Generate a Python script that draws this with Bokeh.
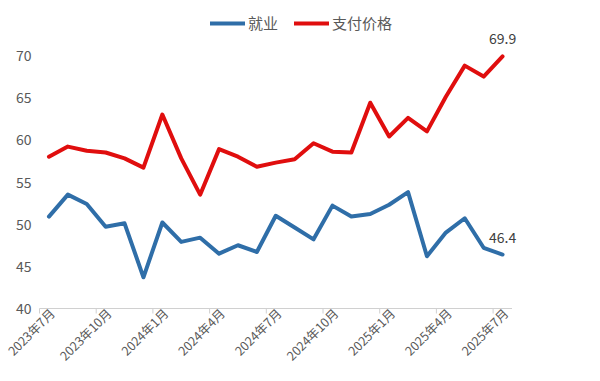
from bokeh.plotting import figure
from bokeh.models import Range1d, Legend, LegendItem
from bokeh.embed import file_html
from bokeh.resources import INLINE
import math

months = ["2023年7月", "2023年8月", "2023年9月", "2023年10月", "2023年11月", "2023年12月",
          "2024年1月", "2024年2月", "2024年3月", "2024年4月", "2024年5月", "2024年6月",
          "2024年7月", "2024年8月", "2024年9月", "2024年10月", "2024年11月", "2024年12月",
          "2025年1月", "2025年2月", "2025年3月", "2025年4月", "2025年5月", "2025年6月",
          "2025年7月"]
employment = [50.9, 53.5, 52.4, 49.7, 50.1, 43.7, 50.2, 47.9, 48.4, 46.5, 47.5, 46.7,
              51.0, 49.6, 48.2, 52.2, 50.9, 51.2, 52.3, 53.8, 46.2, 49.0, 50.7, 47.2, 46.4]
prices_paid = [58.0, 59.2, 58.7, 58.5, 57.8, 56.7, 63.0, 57.8, 53.5, 58.9, 58.0, 56.8,
               57.3, 57.7, 59.6, 58.6, 58.5, 64.4, 60.4, 62.6, 61.0, 65.1, 68.8, 67.5, 69.9]
y_ticks = [40, 45, 50, 55, 60, 65, 70]
series_names = ["就业", "支付价格"]

FONT = "Noto Sans CJK SC"
GRAY = "#595959"
BLUE = "#2F6EA8"
RED = "#E00E0E"
AXIS_GRAY = "#D0D0D0"

W, H = 584, 365
AXIS_LEFT = 39.0      # screen x where the category axis starts
cat_px = 18.9
y_bottom_px = 308.0   # screen y of value 40
y_top_px = 55.0       # screen y of value 70
px_per_unit = (y_bottom_px - y_top_px) / 30.0
y_min = 40 - (H - y_bottom_px) / px_per_unit
y_max = 40 + y_bottom_px / px_per_unit
x_min = -0.5 - AXIS_LEFT / cat_px
x_max = x_min + W / cat_px
n = len(months)

x = list(range(n))
label_idx = list(range(0, n, 3))
boundaries = [i - 0.5 for i in label_idx]

p = figure(width=W, height=H, output_backend="svg", toolbar_location=None,
           x_range=Range1d(x_min, x_max), y_range=Range1d(y_min, y_max),
           min_border_left=0, min_border_right=0, min_border_top=0, min_border_bottom=0)
p.outline_line_color = None
p.grid.visible = False
p.axis.visible = False
p.background_fill_color = "white"
p.border_fill_color = "white"

# category axis
p.segment(x0=[-0.5], y0=[y_ticks[0]], x1=[n - 0.5], y1=[y_ticks[0]],
          line_color=AXIS_GRAY, line_width=1)
p.ray(x=boundaries, y=[y_ticks[0]] * len(boundaries), length=5, length_units="screen",
      angle=-math.pi / 2, line_color=AXIS_GRAY, line_width=1)
p.text(x=label_idx, y=[y_ticks[0]] * len(label_idx), text=[months[i] for i in label_idx],
       angle=math.pi / 4, text_align="right", text_baseline="middle",
       x_offset=3, y_offset=2, text_font={"value": FONT}, text_font_size="12.5px",
       text_color=GRAY)

# value axis labels
p.text(x=[-0.5] * len(y_ticks), y=y_ticks, text=[str(t) for t in y_ticks],
       text_align="right", text_baseline="middle", x_offset=-8,
       text_font={"value": FONT}, text_font_size="14px", text_color=GRAY)

r1 = p.line(x, employment, line_color=BLUE, line_width=4, line_join="round", line_cap="round")
r2 = p.line(x, prices_paid, line_color=RED, line_width=4, line_join="round", line_cap="round")

# end data labels
last = n - 1
p.text(x=[last, last], y=[prices_paid[-1], employment[-1]],
       text=[f"{prices_paid[-1]:.1f}", f"{employment[-1]:.1f}"],
       text_align="center", text_baseline="bottom", y_offset=-12,
       text_font={"value": FONT}, text_font_size="14px", text_color="#404040")

legend = Legend(items=[LegendItem(label=series_names[0], renderers=[r1]),
                       LegendItem(label=series_names[1], renderers=[r2])],
                location=(210, H - 33), orientation="horizontal")
legend.border_line_color = None
legend.background_fill_alpha = 0
legend.label_text_font = FONT
legend.label_text_font_size = "15px"
legend.label_text_color = GRAY
legend.glyph_width = 35
legend.label_standoff = 3
legend.spacing = 16
legend.margin = 0
legend.padding = 2
p.add_layout(legend)

open("out.html", "w").write(file_html(p, INLINE))
